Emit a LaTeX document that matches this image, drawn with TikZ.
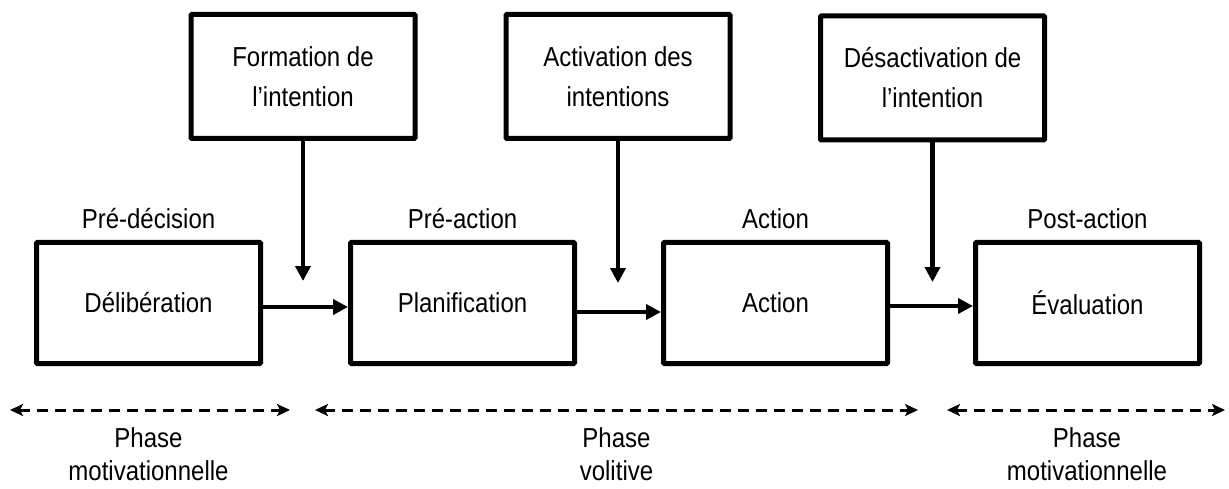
\documentclass[tikz,border=0pt]{standalone}
\usepackage{fontspec}
\setmainfont{Liberation Sans}
\usetikzlibrary{arrows.meta}
\newcommand{\tl}[1]{\scalebox{0.98}[1.12]{#1}}
\begin{document}
\begin{tikzpicture}[x=1pt,y=-1pt,
  lowbox/.style={draw, line width=5pt, rounded corners=1pt, minimum width=224pt, minimum height=121pt, inner sep=0pt, font=\fontsize{24.5}{30}\selectfont},
  topbox/.style={draw, line width=5pt, rounded corners=1pt, minimum width=224pt, minimum height=124pt, inner sep=0pt, align=center, font=\fontsize{24.5}{40}\selectfont},
  steplabel/.style={anchor=base, inner sep=0pt, font=\fontsize{24.5}{30}\selectfont},
  phaselabel/.style={anchor=north, inner sep=0pt, align=center, font=\fontsize{24.5}{33}\selectfont},
  flow/.style={line width=4.5pt, -{Triangle[length=15pt,width=15pt]}},
  span/.style={line width=3pt, dash pattern=on 11pt off 7pt, {Stealth[length=13pt,width=12pt,inset=3pt]}-{Stealth[length=13pt,width=12pt,inset=3pt]}}
]
\useasboundingbox (0,0) rectangle (1229,489);

% bottom row
\node[lowbox] (delib) at (148.5,303) {\tl{Délibération}};
\node[lowbox] (plan)  at (462.5,303) {\tl{Planification}};
\node[lowbox] (act)   at (775.5,303) {\tl{Action}};
\node[lowbox] (eval)  at (1087.5,303) {\tl{Évaluation}};

% labels above
\node[steplabel] (lpre) at (148.5,229) {\tl{Pré-décision}};
\node[steplabel] (lpra) at (462.5,229) {\tl{Pré-action}};
\node[steplabel] (lact) at (775.5,229) {\tl{Action}};
\node[steplabel] (lpos) at (1087.5,229) {\tl{Post-action}};

% top row
\node[topbox] (form)  at (303,76.5) {\tl{Formation de}\\\tl{l’intention}};
\node[topbox] (activ) at (618,76.5) {\tl{Activation des}\\\tl{intentions}};
\node[topbox] (desac) at (932.5,78) {\tl{Désactivation de}\\\tl{l’intention}};

% vertical arrows
\coordinate (fend) at (303,281);
\coordinate (aend) at (618,283);
\coordinate (dend) at (932.5,282);
\draw[flow] (form.south) -- (fend);
\draw[flow] (activ.south) -- (aend);
\draw[flow] (desac.south) -- (dend);

% horizontal arrows
\draw[flow] ([yshift=-4pt]delib.east) -- ([yshift=-4pt]plan.west);
\draw[flow] ([yshift=-9pt]plan.east) -- ([yshift=-9pt]act.west);
\draw[flow] ([yshift=-3pt]act.east) -- ([yshift=-3pt]eval.west);

% phase spans
\coordinate (s1a) at (10,410);
\coordinate (s1b) at (290,410);
\coordinate (s2a) at (315,410);
\coordinate (s2b) at (918,410);
\coordinate (s3a) at (947,410);
\coordinate (s3b) at (1225,410);
\draw[span] (s1a) -- (s1b);
\draw[span] (s2a) -- (s2b);
\draw[span] (s3a) -- (s3b);

\node[phaselabel] (ph1) at (148.5,427) {\tl{Phase}\\\tl{motivationnelle}};
\node[phaselabel] (ph2) at (616.5,427) {\tl{Phase}\\\tl{volitive}};
\node[phaselabel] (ph3) at (1087,427) {\tl{Phase}\\\tl{motivationnelle}};
\end{tikzpicture}
\end{document}
